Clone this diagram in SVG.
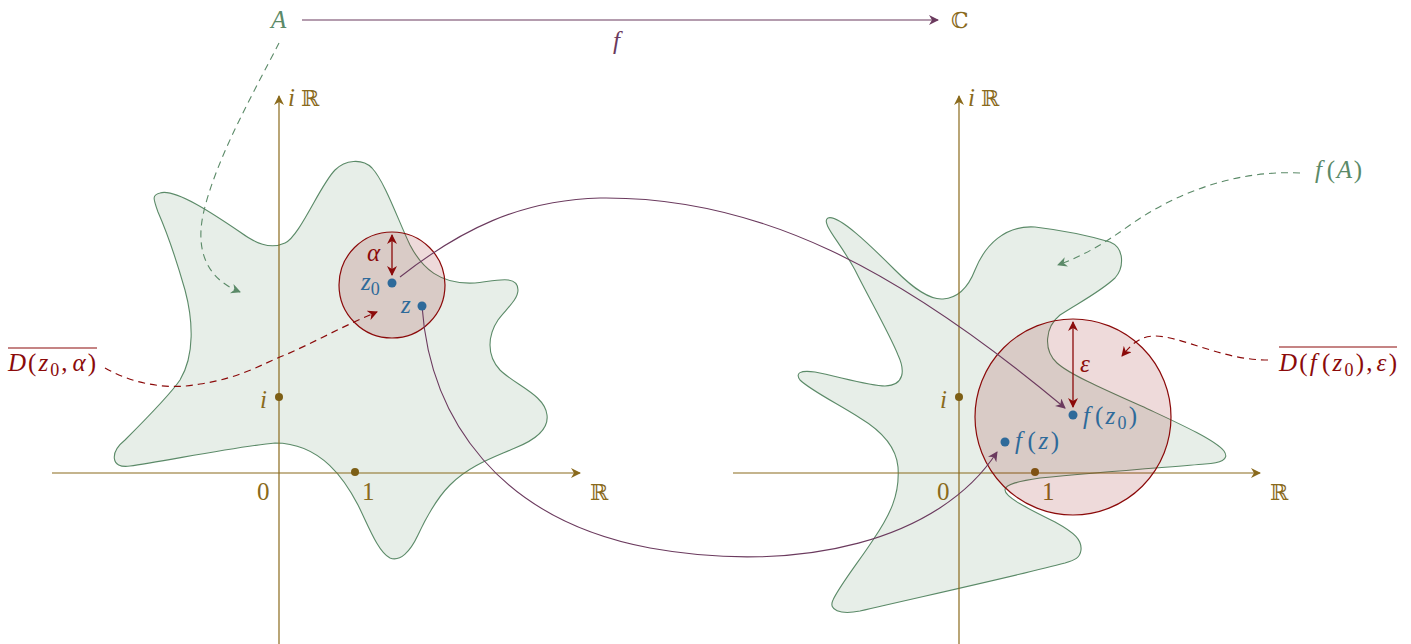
<svg xmlns="http://www.w3.org/2000/svg" width="1411" height="644" viewBox="0 0 1411 644">
<defs>
<style>
.t{font-family:"Liberation Serif","DejaVu Serif",serif;font-size:25px}
.it{font-style:italic}
.bb{font-family:"DejaVu Serif","Liberation Serif",serif;font-size:22px}
.sub{font-size:18px}
.gold{fill:#8a6a1c}
.grn{fill:#5b8a68}
.red{fill:#8b0a0a}
.blu{fill:#2e6a9a}
.pur{fill:#6b3a5e}
.axis{stroke:#8a6a1c;stroke-width:1.2;fill:none}
.blob{fill:#5b8a68;fill-opacity:0.15;stroke:#5b8a68;stroke-width:1.1}
.disk{fill:#8b0a0a;fill-opacity:0.15;stroke:#8b0a0a;stroke-width:1.2}
.conn{stroke:#6b3a5e;stroke-width:1.1;fill:none}
.gdash{stroke:#5b8a68;stroke-width:1.1;fill:none;stroke-dasharray:7 5}
.rdash{stroke:#8b0a0a;stroke-width:1.2;fill:none;stroke-dasharray:7 5}
.rarrow{stroke:#8b0a0a;stroke-width:1.3;fill:none}
</style>
<marker id="mg" viewBox="0 0 10 10" refX="9" refY="5" markerWidth="10" markerHeight="10" markerUnits="userSpaceOnUse" orient="auto-start-reverse"><path d="M0,0 L10,5 L0,10 L3,5 Z" fill="#8a6a1c"/></marker>
<marker id="mp" viewBox="0 0 10 10" refX="9" refY="5" markerWidth="10" markerHeight="10" markerUnits="userSpaceOnUse" orient="auto-start-reverse"><path d="M0,0 L10,5 L0,10 L3,5 Z" fill="#6b3a5e"/></marker>
<marker id="mr" viewBox="0 0 10 10" refX="9" refY="5" markerWidth="10" markerHeight="10" markerUnits="userSpaceOnUse" orient="auto-start-reverse"><path d="M0,0 L10,5 L0,10 L3,5 Z" fill="#8b0a0a"/></marker>
<marker id="mgr" viewBox="0 0 10 10" refX="9" refY="5" markerWidth="10" markerHeight="10" markerUnits="userSpaceOnUse" orient="auto-start-reverse"><path d="M0,0 L10,5 L0,10 L3,5 Z" fill="#5b8a68"/></marker>
</defs>

<g id="blob-A">
<path class="blob" d="M160,193 C175,188 215,215 240,232 C255,243 270,250 285,243 C300,236 320,185 335,170 C345,160 362,158 372,168 C385,182 398,220 410,245 C422,268 440,285 475,283 C495,281 518,274 518,290 C518,300 505,310 498,320 C488,335 486,355 500,370 C515,385 545,395 547,415 C549,430 535,440 515,448 C495,457 470,465 450,485 C435,500 425,520 418,535 C410,552 400,562 390,558 C378,552 368,525 358,505 C346,482 322,443 275,443 C240,446 160,462 130,466 C110,469 110,452 125,440 C145,420 170,395 180,380 C195,355 193,320 185,290 C175,255 165,228 158,212 C153,198 152,195 160,193 Z"/>
</g>

<g id="blob-fA">
<path class="blob" d="M828,218 C838,214 870,245 895,270 C915,290 930,300 943,299 C958,298 968,288 975,270 C985,245 1005,225 1035,227 C1060,230 1090,236 1110,242 C1125,248 1124,268 1115,278 C1100,292 1080,302 1060,315 C1045,327 1043,350 1057,363 C1070,375 1110,392 1150,410 C1180,424 1215,440 1224,451 C1230,460 1220,463 1205,464 C1170,467 1100,472 1040,478 C1020,481 1005,484 1005,490 C1005,498 1035,512 1055,522 C1075,533 1082,540 1081,550 C1080,558 1075,560 1065,563 C1020,575 920,597 860,611 C840,615 828,610 833,600 C840,585 860,560 873,540 C890,515 900,495 898,467 C896,445 880,430 860,418 C840,405 810,390 800,380 C795,373 800,370 815,372 C840,377 870,386 885,386 C905,385 905,370 898,355 C890,335 870,300 855,270 C840,242 820,222 828,218 Z"/>
</g>

<g id="axes-left">
<line class="axis" x1="52" y1="473" x2="580" y2="473" marker-end="url(#mg)"/>
<line class="axis" x1="279" y1="644" x2="279" y2="96" marker-end="url(#mg)"/>
<circle cx="355" cy="472" r="4" fill="#7d5f16"/>
<circle cx="279" cy="397" r="4" fill="#7d5f16"/>
<text class="t gold" x="257" y="500">0</text>
<text class="t gold" x="362" y="500">1</text>
<text class="t it gold" x="260" y="408">i</text>
<text class="t it gold" x="288" y="106">i</text>
<text class="bb gold" x="301" y="106">ℝ</text>
<text class="bb gold" x="590" y="500">ℝ</text>
</g>

<g id="axes-right">
<line class="axis" x1="733" y1="473" x2="1260" y2="473" marker-end="url(#mg)"/>
<line class="axis" x1="959" y1="644" x2="959" y2="96" marker-end="url(#mg)"/>
<circle cx="1035" cy="472" r="4" fill="#7d5f16"/>
<circle cx="959" cy="397" r="4" fill="#7d5f16"/>
<text class="t gold" x="937" y="500">0</text>
<text class="t gold" x="1042" y="500">1</text>
<text class="t it gold" x="940" y="408">i</text>
<text class="t it gold" x="968" y="106">i</text>
<text class="bb gold" x="981" y="106">ℝ</text>
<text class="bb gold" x="1270" y="500">ℝ</text>
</g>

<g id="disk-left">
<circle class="disk" cx="392" cy="285" r="53"/>
<line class="rarrow" x1="392" y1="235" x2="392" y2="275" marker-start="url(#mr)" marker-end="url(#mr)"/>
<text class="t it red" x="367" y="261">α</text>
</g>

<g id="disk-right">
<circle class="disk" cx="1073" cy="417" r="98"/>
<line class="rarrow" x1="1073" y1="322" x2="1073" y2="407" marker-start="url(#mr)" marker-end="url(#mr)"/>
<text class="t it red" x="1080" y="372">ε</text>
</g>

<g id="connectors">
<line class="conn" x1="302" y1="20" x2="938" y2="20" marker-end="url(#mp)"/>
<path class="conn" d="M400,277 C460,230 520,200 600,198 C760,196 900,270 1065,408" marker-end="url(#mp)"/>
<path class="conn" d="M422,306 C430,420 500,520 650,548 C800,575 940,540 997,452" marker-end="url(#mp)"/>
<path class="gdash" d="M279,43 C255,90 215,160 203,215 C195,255 210,280 240,292" marker-end="url(#mgr)"/>
<path class="rdash" d="M105,368 C135,385 170,390 200,384 C240,378 260,365 285,355 C315,342 345,325 377,312" marker-end="url(#mr)"/>
<path class="gdash" d="M1300,173 C1240,170 1180,190 1130,225 C1105,243 1085,255 1058,265" marker-end="url(#mgr)"/>
<path class="rdash" d="M1268,360 C1230,360 1200,345 1170,338 C1145,332 1135,340 1122,356" marker-end="url(#mr)"/>
</g>

<g id="points">
<circle cx="392" cy="283" r="4.5" fill="#2e6a9a"/>
<circle cx="422" cy="306" r="4.5" fill="#2e6a9a"/>
<circle cx="1073" cy="415" r="4.5" fill="#2e6a9a"/>
<circle cx="1005" cy="442" r="4.5" fill="#2e6a9a"/>
<text class="t blu" x="361" y="290"><tspan class="it">z</tspan><tspan class="sub" dy="5">0</tspan></text>
<text class="t it blu" x="401" y="313">z</text>
<text class="t blu" x="1083" y="424" textLength="54" lengthAdjust="spacing"><tspan class="it">f</tspan><tspan dx="3">(</tspan><tspan class="it">z</tspan><tspan class="sub" dy="5">0</tspan><tspan dy="-5">)</tspan></text>
<text class="t blu" x="1015" y="449" textLength="44" lengthAdjust="spacing"><tspan class="it">f</tspan><tspan dx="3">(</tspan><tspan class="it">z</tspan>)</text>
</g>

<g id="labels">
<text class="t it grn" x="271" y="28">A</text>
<text class="bb gold" x="951" y="28">ℂ</text>
<text class="t it pur" x="613" y="49">f</text>
<text class="t grn" x="1315" y="178" textLength="47" lengthAdjust="spacing"><tspan class="it">f</tspan><tspan dx="3">(</tspan><tspan class="it">A</tspan>)</text>
<text class="t red" x="8" y="371" textLength="88" lengthAdjust="spacing"><tspan class="it">D</tspan>(<tspan class="it">z</tspan><tspan class="sub" dy="5">0</tspan><tspan dy="-5">,</tspan><tspan class="it" dx="3">α</tspan>)</text>
<line x1="8" y1="348" x2="97" y2="348" stroke="#8b0a0a" stroke-width="1.2"/>
<text class="t red" x="1279" y="371" textLength="118" lengthAdjust="spacing"><tspan class="it">D</tspan>(<tspan class="it">f</tspan><tspan dx="3">(</tspan><tspan class="it">z</tspan><tspan class="sub" dy="5">0</tspan><tspan dy="-5">),</tspan><tspan class="it" dx="2">ε</tspan>)</text>
<line x1="1279" y1="347" x2="1397" y2="347" stroke="#8b0a0a" stroke-width="1.2"/>
</g>
</svg>
